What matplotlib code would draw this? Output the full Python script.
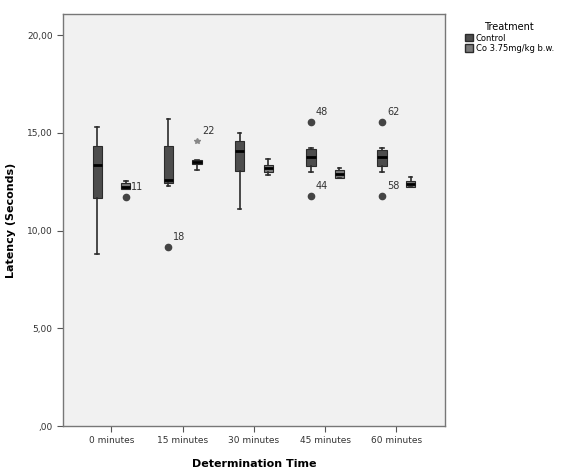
import numpy as np
import matplotlib
matplotlib.use('Agg')
from matplotlib import pyplot as plt
from matplotlib.patches import Patch

times = ['0 minutes', '15 minutes', '30 minutes', '45 minutes', '60 minutes']

# Control
ctrl_med = [13.35, 12.58, 14.08, 13.78, 13.74]
ctrl_q1 = [11.68, 12.41, 13.04, 13.30, 13.30]
ctrl_q3 = [14.34, 14.32, 14.59, 14.15, 14.12]
ctrl_lo = [8.78, 12.30, 11.08, 13.00, 13.00]
ctrl_hi = [15.30, 15.69, 14.97, 14.24, 14.24]
ctrl_out = [[], [(9.17, '18')], [], [(15.57, '48'), (11.76, '44')], [(15.57, '62'), (11.76, '58')]]
ctrl_ext = [[], [], [], [], []]

# Co 3.75mg/kg b.w.
co_med = [12.25, 13.50, 13.20, 12.89, 12.37]
co_q1 = [12.10, 13.38, 13.01, 12.70, 12.21]
co_q3 = [12.41, 13.60, 13.35, 13.08, 12.53]
co_lo = [12.10, 13.10, 12.84, 12.70, 12.21]
co_hi = [12.55, 13.60, 13.64, 13.18, 12.72]
co_out = [[(11.73, '11')], [], [], [], []]
co_ext = [[], [(14.60, '22')], [], [], []]

ctrl_color = '#4d4d4d'
co_color = '#7a7a7a'
edge = '#2b2b2b'

fig = plt.figure(figsize=(5.63, 4.71), dpi=100)
ax = fig.add_axes([0.112, 0.0955, 0.678, 0.8745])
ax.set_facecolor('#f1f1f1')

pos = np.arange(len(times))
groups = [
    (ctrl_med, ctrl_q1, ctrl_q3, ctrl_lo, ctrl_hi, ctrl_out, ctrl_ext, -0.2, ctrl_color),
    (co_med, co_q1, co_q3, co_lo, co_hi, co_out, co_ext, 0.2, co_color),
]
for med, q1, q3, lo, hi, out, ext, off, col in groups:
    stats = []
    for i in range(len(times)):
        stats.append(dict(med=med[i], q1=q1[i], q3=q3[i], whislo=lo[i], whishi=hi[i], fliers=[]))
    ax.bxp(stats, positions=pos + off, widths=0.13, patch_artist=True, showfliers=False,
           boxprops=dict(facecolor=col, edgecolor=edge, linewidth=0.8),
           medianprops=dict(color='black', linewidth=2),
           whiskerprops=dict(color=edge, linewidth=1.2),
           capprops=dict(color=edge, linewidth=1.2), capwidths=0.05)
    for i in range(len(times)):
        for v, lab in out[i]:
            ax.plot(pos[i] + off, v, 'o', color='#444444', markersize=4.5, zorder=3)
            ax.annotate(lab, (pos[i] + off, v), xytext=(3.5, 7), textcoords='offset points',
                        fontsize=7, color='#333333', va='center', ha='left')
        for v, lab in ext[i]:
            ax.plot(pos[i] + off, v, '*', color='#888888', markersize=4, zorder=3)
            ax.annotate(lab, (pos[i] + off, v), xytext=(3.5, 7), textcoords='offset points',
                        fontsize=7, color='#333333', va='center', ha='left')

ax.set_xlim(-0.68, 4.68)
ax.set_ylim(0, 21.07)
ax.set_xticks(pos)
ax.set_xticklabels(times, fontsize=6.5, color='#333333')
ax.set_yticks([0, 5, 10, 15, 20])
ax.set_yticklabels([',00', '5,00', '10,00', '15,00', '20,00'], fontsize=6.5, color='#333333')
ax.tick_params(length=4, color='#555555')
for s in ax.spines.values():
    s.set_color('#777777')
    s.set_linewidth(1.0)

ax.set_xlabel('Determination Time', fontsize=8, fontweight='bold', labelpad=10)
ax.set_ylabel('Latency (Seconds)', fontsize=8, fontweight='bold', labelpad=8)

handles = [Patch(facecolor=ctrl_color, edgecolor=edge, label='Control'),
           Patch(facecolor=co_color, edgecolor=edge, label='Co 3.75mg/kg b.w.')]
leg = fig.legend(handles=handles, title='Treatment', loc='upper left',
                 bbox_to_anchor=(0.815, 0.965), frameon=False, fontsize=6,
                 title_fontsize=7, handlelength=1.0, handleheight=1.0,
                 handletextpad=0.3, labelspacing=0.15, borderpad=0.2)

fig.savefig('out.png', dpi=100)
